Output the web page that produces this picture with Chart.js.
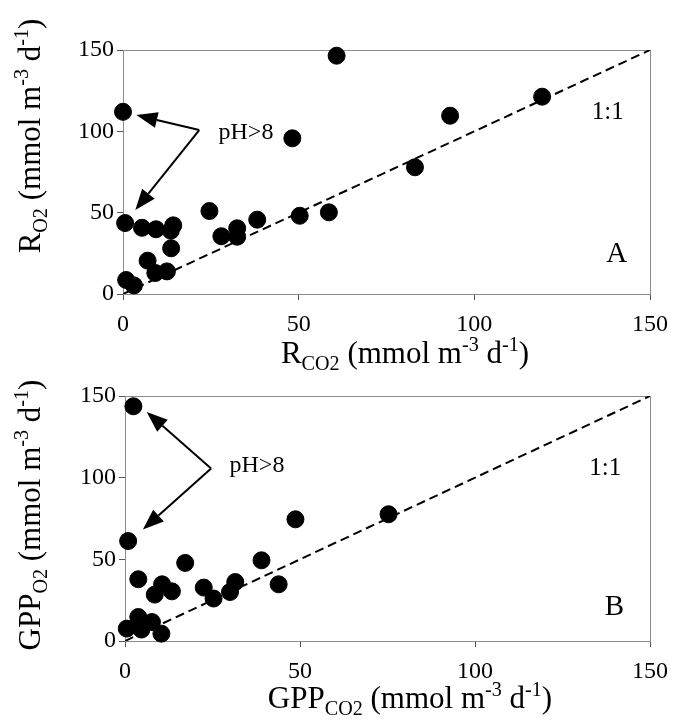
<!DOCTYPE html>
<html>
<head>
<meta charset="utf-8">
<script src="https://cdn.jsdelivr.net/npm/chart.js@4/dist/chart.umd.min.js"></script>
<style>
  body { margin: 0; background: #fff; }
  canvas { position: absolute; left: 0; }
  #chartA { top: 0; }
  #chartB { top: 375px; }
</style>
</head>
<body>
<canvas id="chartA" width="678" height="375"></canvas>
<canvas id="chartB" width="678" height="349"></canvas>
<script>
// panel A: respiration, CO2 based vs O2 based
var rCO2 = [0, 60.8, 48.2, 93.1, 83.1, 119.3, 0.6, 5.4, 9.4, 14.3, 13.6, 13.7,
            24.6, 28, 32.5, 32.5, 38.2, 50.3, 58.6, 7, 9.2, 12.5, 0.9, 3.1];
var rO2  = [112, 146.5, 95.7, 109.6, 77.9, 121.3, 43.6, 40.7, 39.8, 42.2, 38.9, 28.1,
            51, 35.5, 40.4, 35.2, 45.7, 48.1, 50.2, 20.5, 12.9, 13.9, 8.6, 5.3];

// panel B: gross primary production
var gppCO2 = [2.4, 0.9, 48.7, 75.3, 17.2, 39, 3.8, 10.6, 8.5, 13.4, 22.5, 25.3,
              30, 31.5, 43.9, 3.8, 7.7, 4.7, 0.5, 10.4];
var gppO2  = [143.7, 61.2, 74.5, 77.6, 47.8, 49.4, 37.8, 34.7, 28.4, 30.4, 32.7, 26,
              30, 36.1, 34.7, 14.7, 11.6, 7, 7.6, 4.5];

var oneToOne = [0, 150];
var axisTicks = [0, 50, 100, 150];

var serif = "'Liberation Serif', 'DejaVu Serif', serif";

function pts(xs, ys) {
  return xs.map(function (x, i) { return { x: x, y: ys[i] }; });
}

// text with sub/superscripts: [text, 0 normal | 1 sub | -1 sup]
function drawRich(ctx, segs, cx, base, size) {
  var small = size * 0.65, w = 0;
  segs.forEach(function (s) {
    ctx.font = (s[1] ? small : size) + 'px ' + serif;
    w += ctx.measureText(s[0]).width;
  });
  var x = cx - w / 2;
  ctx.textAlign = 'left';
  ctx.textBaseline = 'alphabetic';
  segs.forEach(function (s) {
    ctx.font = (s[1] ? small : size) + 'px ' + serif;
    var dy = s[1] === 1 ? size * 0.22 : (s[1] === -1 ? -size * 0.38 : 0);
    ctx.fillText(s[0], x, base + dy);
    x += ctx.measureText(s[0]).width;
  });
}

function arrow(ctx, x1, y1, x2, y2) {
  var ang = Math.atan2(y2 - y1, x2 - x1), len = 21, half = 8;
  var bx = x2 - len * Math.cos(ang), by = y2 - len * Math.sin(ang);
  ctx.beginPath();
  ctx.moveTo(x1, y1);
  ctx.lineTo(bx, by);
  ctx.stroke();
  ctx.beginPath();
  ctx.moveTo(x2, y2);
  ctx.lineTo(bx + half * Math.sin(ang), by - half * Math.cos(ang));
  ctx.lineTo(bx - half * Math.sin(ang), by + half * Math.cos(ang));
  ctx.closePath();
  ctx.fill();
}

var decor = {
  id: 'decor',
  beforeDatasetsDraw: function (chart) {
    var a = chart.chartArea, ctx = chart.ctx;
    ctx.save();
    ctx.strokeStyle = '#8c8c8c';
    ctx.lineWidth = 1;
    ctx.strokeRect(a.left + 0.5, a.top + 0.5, a.right - a.left, a.bottom - a.top);
    ctx.restore();
  },
  afterDraw: function (chart, args, o) {
    var ctx = chart.ctx, xs = chart.scales.x, ys = chart.scales.y;
    var px = function (v) { return xs.getPixelForValue(v); };
    var py = function (v) { return ys.getPixelForValue(v); };
    ctx.save();
    ctx.fillStyle = '#000';
    ctx.strokeStyle = '#000';
    ctx.lineWidth = 2;
    o.arrows.forEach(function (t) {
      arrow(ctx, px(o.vertex[0]), py(o.vertex[1]), px(t[0]), py(t[1]));
    });
    ctx.textAlign = 'center';
    ctx.textBaseline = 'middle';
    ctx.font = '24px ' + serif;
    ctx.fillText('pH>8', px(o.ph[0]), py(o.ph[1]));
    ctx.font = '25px ' + serif;
    ctx.fillText('1:1', px(o.one[0]), py(o.one[1]));
    ctx.font = '29px ' + serif;
    ctx.fillText(o.letter, px(o.letterAt[0]), py(o.letterAt[1]));

    drawRich(ctx, o.xTitle, o.xTitleAt[0], o.xTitleAt[1], 31);
    ctx.translate(o.yTitleAt[0], o.yTitleAt[1]);
    ctx.rotate(-Math.PI / 2);
    drawRich(ctx, o.yTitle, 0, 0, 31);
    ctx.restore();
  }
};

function axis(size) {
  return {
    type: 'linear',
    min: 0,
    max: 150,
    afterBuildTicks: function (s) { s.ticks = axisTicks.map(function (v) { return { value: v }; }); },
    afterFit: function (s) { if (s.isHorizontal()) { s.height = size; } else { s.width = size; } },
    grid: { drawOnChartArea: false, drawTicks: true, tickLength: 6, color: '#555' },
    border: { display: true, color: '#8c8c8c' },
    ticks: { color: '#000', padding: 3, font: { family: serif, size: 24 } }
  };
}

function makeChart(id, data, pad, ySize, xSize, deco) {
  var xAx = axis(xSize), yAx = axis(ySize);
  xAx.ticks.padding = 10;
  new Chart(document.getElementById(id), {
    type: 'scatter',
    data: {
      datasets: [{
        data: data,
        backgroundColor: '#000',
        borderColor: '#000',
        pointRadius: 8.5,
        pointHoverRadius: 8.5,
        clip: false
      }, {
        type: 'line',
        data: pts(oneToOne, oneToOne),
        borderColor: '#000',
        borderWidth: 2,
        borderDash: [9, 5],
        pointRadius: 0,
        fill: false
      }]
    },
    options: {
      responsive: false,
      animation: false,
      layout: { padding: pad },
      scales: { x: xAx, y: yAx },
      plugins: { legend: { display: false }, tooltip: { enabled: false }, decor: deco }
    },
    plugins: [decor]
  });
}

makeChart('chartA', pts(rCO2, rO2), { top: 50, right: 26, left: 0, bottom: 0 }, 123, 81, {
  vertex: [21.7, 100.8], arrows: [[3.8, 110], [3.5, 51.6]],
  ph: [35, 98.9], one: [138, 111.5], letter: 'A', letterAt: [140.5, 24.6],
  xTitle: [['R', 0], ['CO2', 1], [' (mmol m', 0], ['-3', -1], [' d', 0], ['-1', -1], [')', 0]],
  xTitleAt: [405, 363],
  yTitle: [['R', 0], ['O2', 1], [' (mmol m', 0], ['-3', -1], [' d', 0], ['-1', -1], [')', 0]],
  yTitleAt: [40, 136]
});

makeChart('chartB', pts(gppCO2, gppO2), { top: 21, right: 24, left: 0, bottom: 0 }, 125, 83, {
  vertex: [24.6, 105.6], arrows: [[6.2, 140.2], [5.1, 68.2]],
  ph: [37.7, 107.6], one: [137.2, 105.5], letter: 'B', letterAt: [139.8, 20.3],
  xTitle: [['GPP', 0], ['CO2', 1], [' (mmol m', 0], ['-3', -1], [' d', 0], ['-1', -1], [')', 0]],
  xTitleAt: [410, 333],
  yTitle: [['GPP', 0], ['O2', 1], [' (mmol m', 0], ['-3', -1], [' d', 0], ['-1', -1], [')', 0]],
  yTitleAt: [40, 140]
});
</script>
</body>
</html>
